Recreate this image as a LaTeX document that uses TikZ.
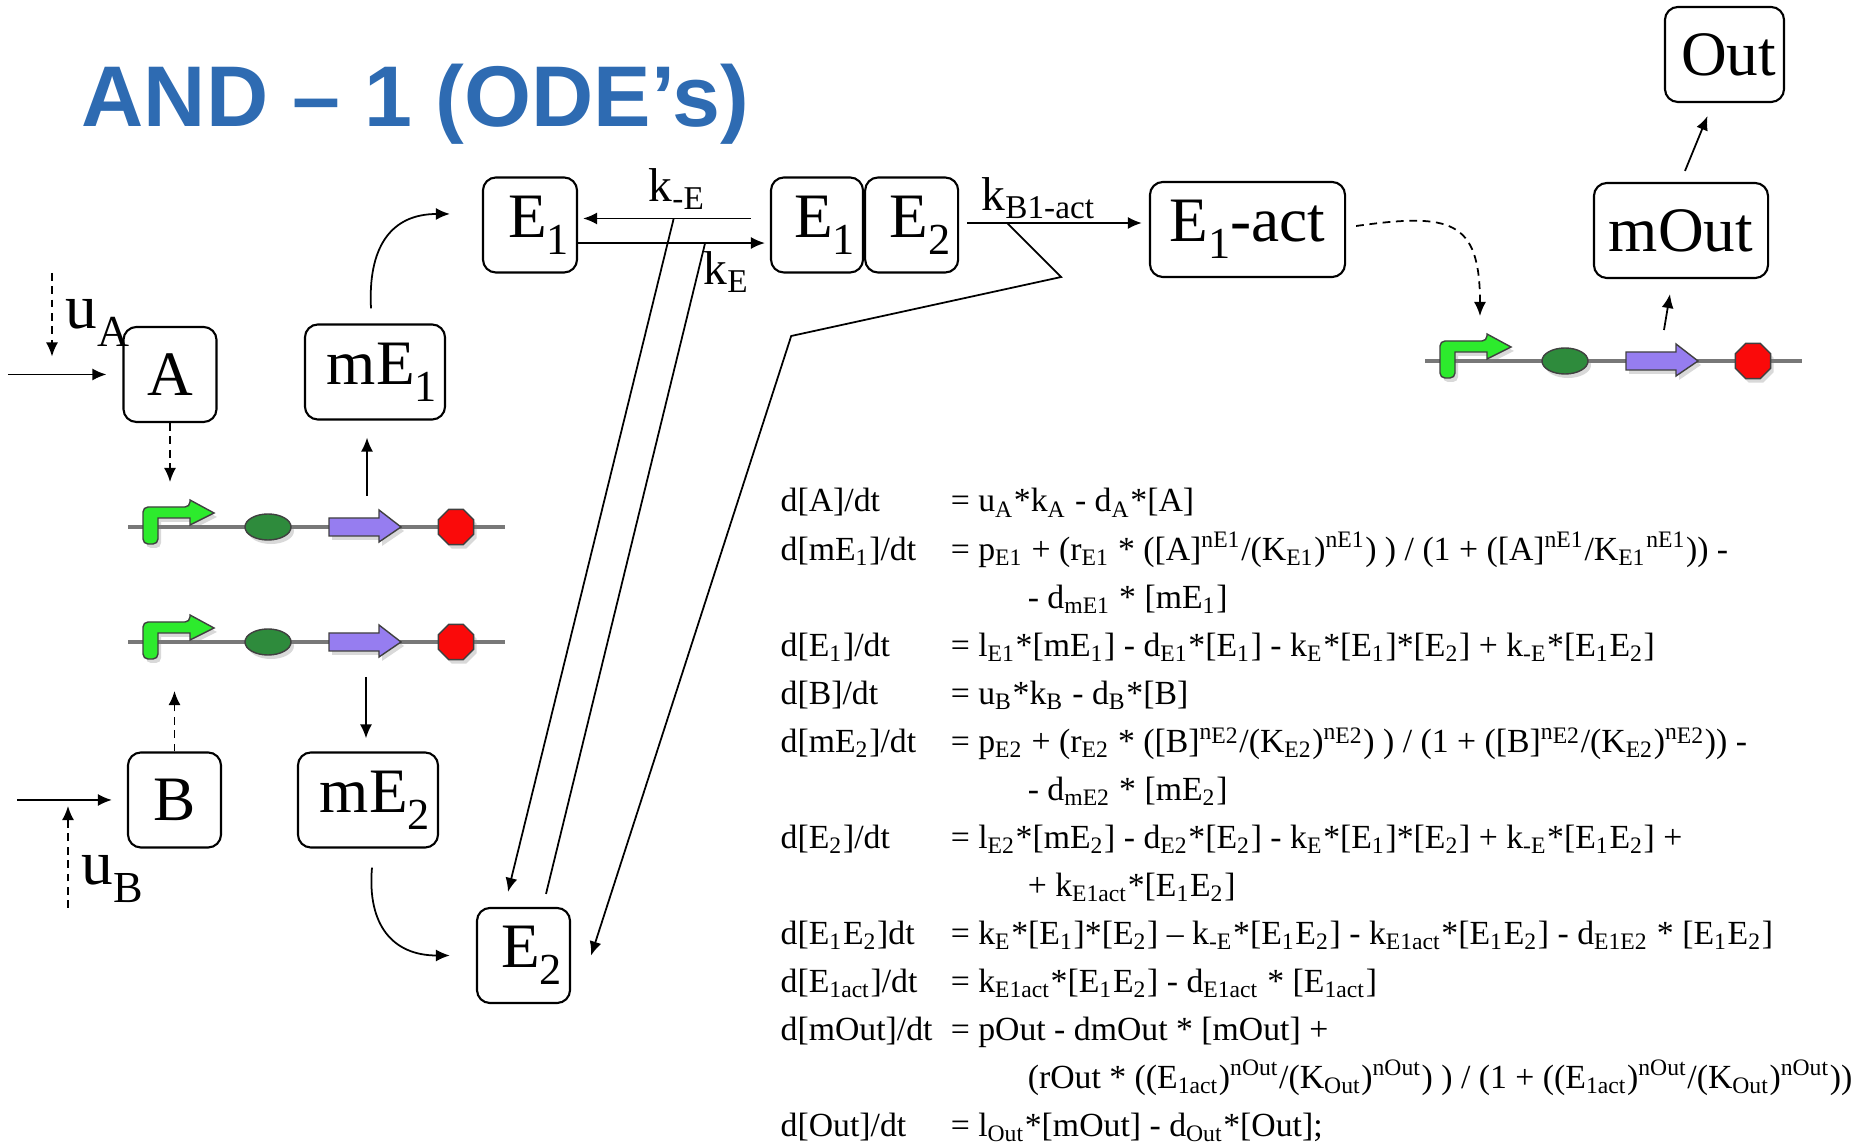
\documentclass[tikz,border=0pt]{standalone}
\usepackage{fontspec}
\setmainfont{Liberation Serif}
\newfontfamily\titlefont{Liberation Sans}
\usepackage{tikz}
\usetikzlibrary{arrows.meta,positioning,shadows}

\definecolor{titleblue}{RGB}{46,107,178}
\definecolor{backbone}{RGB}{120,120,120}
\definecolor{promgreen}{RGB}{45,235,45}
\definecolor{rbsgreen}{RGB}{46,139,60}
\definecolor{cdspurple}{RGB}{150,125,240}
\definecolor{termred}{RGB}{250,10,10}

% lowered subscript at 70% of the running size
\makeatletter
\newcommand\lo[1]{\raisebox{-.27em}{\fontsize{\the\dimexpr\f@size pt*7/10\relax}{0pt}\selectfont#1}}
\makeatother
\newcommand\esub[1]{\textsubscript{#1}}
\newcommand\esup[1]{\textsuperscript{#1}}

\tikzstyle{arrow}=[draw, line width=.5pt, -{Latex[length=1.4mm,width=1.2mm]}]
\tikzstyle{dasharrow}=[arrow, dash pattern=on 2.2pt off 1.6pt]
\tikzstyle{plainline}=[draw, line width=.5pt]

% promoter - rbs - cds - terminator on a backbone
\tikzset{
  dnapart/.style={draw=black!75, line width=.4pt,
    drop shadow={shadow xshift=.03cm, shadow yshift=-.04cm, opacity=.3}},
  construct/.pic={
    \draw[backbone, line width=1.2pt] (0,0) -- (377,0);
    \filldraw[dnapart, fill=promgreen, rounded corners=.05cm]
      (15,17) -- (15,-20) -- (62,-20) [sharp corners] -- (62,-27) -- (86,-14)
      -- (62,-2) -- (62,-9) -- (30,-9) [rounded corners=.05cm] -- (30,17) -- cycle;
    \filldraw[dnapart, fill=rbsgreen] (140,0) ellipse [x radius=.23cm, y radius=.13cm];
    \filldraw[dnapart, fill=cdspurple] (201,-9) -- (251,-9) -- (251,-17) -- (273,0)
      -- (251,15) -- (251,9) -- (201,9) -- cycle;
    \filldraw[dnapart, fill=termred] (328,0) +(22.5:.19cm)
      \foreach \a in {67.5,112.5,...,337.5} {-- +(\a:.19cm)} -- cycle;
    \coordinate (-prom) at (55,-45);
    \coordinate (-promb) at (46,49);
    \coordinate (-cds) at (239,-31);
    \coordinate (-cdsb) at (238,35);
  }
}

\begin{document}
\begin{tikzpicture}[x=0.01cm, y=-0.01cm,
    box/.style={draw, line width=.6pt, rounded corners=1.3mm, minimum height=.95cm,
      inner sep=0pt, font=\fontsize{18}{20}\selectfont},
    rtext/.style={align=right, text width=#1, inner xsep=.08cm},
    klabel/.style={inner sep=0pt, anchor=base west, font=\fontsize{13.5}{15}\selectfont},
    ulabel/.style={inner sep=0pt, anchor=base west, font=\fontsize{18}{20}\selectfont}
  ]
  \useasboundingbox (0,0) rectangle (1862,1143);

  % title
  \node[inner sep=0pt, anchor=base west, text=titleblue,
    font=\titlefont\bfseries\fontsize{24.5}{28}\selectfont] (title) at (81,127) {AND – 1 (ODE’s)};

  % species
  \node[box, minimum width=.93cm] (A) at (170,374.5) {A};
  \node[box, rtext=1.24cm] (mEone) at (375,372) {mE\lo{1}};
  \node[box, minimum width=.93cm] (B) at (174.5,800) {B};
  \node[box, rtext=1.24cm] (mEtwo) at (368,800) {mE\lo{2}};
  \node[box, rtext=.78cm] (Eone) at (530,225) {E\lo{1}};
  \node[box, rtext=.77cm] (Etwo) at (523.5,955.5) {E\lo{2}};
  \node[box, rtext=.76cm] (cEone) at (817,225) {E\lo{1}};
  \node[box, rtext=.77cm, right=0pt of cEone] (cEtwo) {E\lo{2}};
  \node[box, minimum width=1.95cm] (Eact) at (1247.5,229.5) {E\lo{1}-act};
  \node[box, minimum width=1.74cm] (mOut) at (1681,230.5) {mOut};
  \node[box, rtext=1.03cm] (Out) at (1724.5,54.5) {Out};

  % gene constructs
  \pic (gA) at (128,527) {construct};
  \pic (gB) at (128,642) {construct};
  \pic (gOut) at (1425,361) {construct};

  % inputs
  \coordinate (inA) at (8,374.5);
  \coordinate (inB) at (17,800);
  \coordinate (uAtop) at (52,273);
  \coordinate (uBbot) at (68,908);
  \draw[arrow] (inA) -- ([xshift=-1.6mm]A.west);
  \draw[arrow] (inB) -- ([xshift=-1.5mm]B.west);
  \draw[dasharrow, shorten >=1.8mm] (uAtop) -- (uAtop |- inA);
  \draw[dasharrow, shorten >=.6mm] (uBbot) -- (uBbot |- inB);
  \node[ulabel] (uA) at (65,329) {u\lo{A}};
  \node[ulabel] (uB) at (81,885) {u\lo{B}};

  % transcription / translation
  \draw[dasharrow] (A.south) -- (A.south |- gA-prom);
  \draw[dasharrow] (B.north) -- (B.north |- gB-promb);
  \draw[arrow, shorten >=1.7mm] (gA-cds) -- (gA-cds |- mEone.south);
  \draw[arrow, shorten >=1.3mm] (gB-cdsb) -- (gB-cdsb |- mEtwo.north);
  \draw[arrow] ([xshift=-.4mm, yshift=1.5mm]mEone.north) to[out=93, in=180, looseness=1.25] ([xshift=-3.2mm, yshift=1.1mm]Eone.west);
  \draw[arrow] ([xshift=.4mm, yshift=-1.9mm]mEtwo.south) to[out=-95, in=180, looseness=1.25] ([xshift=-2.6mm]Etwo.west);

  % binding and unbinding
  \draw[arrow] ([xshift=-1.9mm, yshift=.65mm]cEone.west) -- coordinate[pos=.46] (kmEpt) ([xshift=.5mm, yshift=.65mm]Eone.east);
  \draw[arrow] ([yshift=-1.8mm]Eone.east) -- coordinate[pos=.68] (kEpt) ([xshift=-.5mm, yshift=-1.8mm]cEone.west);
  \draw[arrow] (kmEpt) -- ([xshift=-1.55mm, yshift=1.5mm]Etwo.north);
  \draw[plainline] ([xshift=2.25mm, yshift=1.3mm]Etwo.north) -- (kEpt);
  \node[klabel] (kmE) at (648,202) {k\textsubscript{-E}};
  \node[klabel] (kE) at (703,285) {k\textsubscript{E}};

  % activation
  \coordinate (actst) at ([xshift=.8mm, yshift=.2mm]cEtwo.east);
  \draw[arrow, shorten >=.7mm] (actst) -- coordinate[pos=.22] (actpt) (actst -| Eact.west);
  \draw[arrow] (actpt) -- ++(54,54) -- ++(-270,59) -- ([xshift=2mm]Etwo.east);
  \node[klabel] (kact) at (981,211) {k\textsubscript{B1-act}};

  % output stage
  \draw[dasharrow] ([xshift=1mm, yshift=.35mm]Eact.east) to[out=8, in=90, looseness=1.6] (gOut-prom);
  \draw[arrow] (gOut-cds) -- ([xshift=-1.1mm, yshift=-1.5mm]mOut.south);
  \draw[arrow] ([xshift=.4mm, yshift=1.1mm]mOut.north) -- ([xshift=-1.7mm, yshift=-1.3mm]Out.south);

  % rate equations
  \node[inner sep=0pt, anchor=base west, font=\fontsize{9.6}{13.66}\selectfont] (odes) at (780,512) {%
    \begin{tabular}[t]{@{}p{1.7cm}@{}l@{}}
    d[A]/dt & = u\esub{A}*k\esub{A} - d\esub{A}*[A]\\
    d[mE\esub{1}]/dt & = p\esub{E1} + (r\esub{E1} * ([A]\esup{nE1}/(K\esub{E1})\esup{nE1}) ) / (1 + ([A]\esup{nE1}/K\esub{E1}\esup{nE1})) -\\
    & \hspace{.77cm}- d\esub{mE1} * [mE\esub{1}]\\
    d[E\esub{1}]/dt & = l\esub{E1}*[mE\esub{1}] - d\esub{E1}*[E\esub{1}] - k\esub{E}*[E\esub{1}]*[E\esub{2}] + k\esub{-E}*[E\esub{1}E\esub{2}]\\
    d[B]/dt & = u\esub{B}*k\esub{B} - d\esub{B}*[B]\\
    d[mE\esub{2}]/dt & = p\esub{E2} + (r\esub{E2} * ([B]\esup{n\raisebox{-.35ex}{E2}}/(K\esub{E2})\esup{n\raisebox{-.35ex}{E2}}) ) / (1 + ([B]\esup{n\raisebox{-.35ex}{E2}}/(K\esub{E2})\esup{n\raisebox{-.35ex}{E2}})) -\\
    & \hspace{.77cm}- d\esub{mE2} * [mE\esub{2}]\\
    d[E\esub{2}]/dt & = l\esub{E2}*[mE\esub{2}] - d\esub{E2}*[E\esub{2}] - k\esub{E}*[E\esub{1}]*[E\esub{2}] + k\esub{-E}*[E\esub{1}E\esub{2}] +\\
    & \hspace{.77cm}+ k\esub{E1act}*[E\esub{1}E\esub{2}]\\
    d[E\esub{1}E\esub{2}]dt & = k\esub{E}*[E\esub{1}]*[E\esub{2}] -- k\esub{-E}*[E\esub{1}E\esub{2}] - k\esub{E1act}*[E\esub{1}E\esub{2}] - d\esub{E1E2} * [E\esub{1}E\esub{2}]\\
    d[E\esub{1act}]/dt & = k\esub{E1act}*[E\esub{1}E\esub{2}] - d\esub{E1act} * [E\esub{1act}]\\
    d[mOut]/dt & = pOut - dmOut * [mOut] +\\
    & \hspace{.77cm}(rOut * ((E\esub{1act})\esup{nOut}/(K\esub{Out})\esup{nOut}) ) / (1 + ((E\esub{1act})\esup{nOut}/(K\esub{Out})\esup{nOut}))\\
    d[Out]/dt & = l\esub{Out}*[mOut] - d\esub{Out}*[Out];
    \end{tabular}};
\end{tikzpicture}
\end{document}
